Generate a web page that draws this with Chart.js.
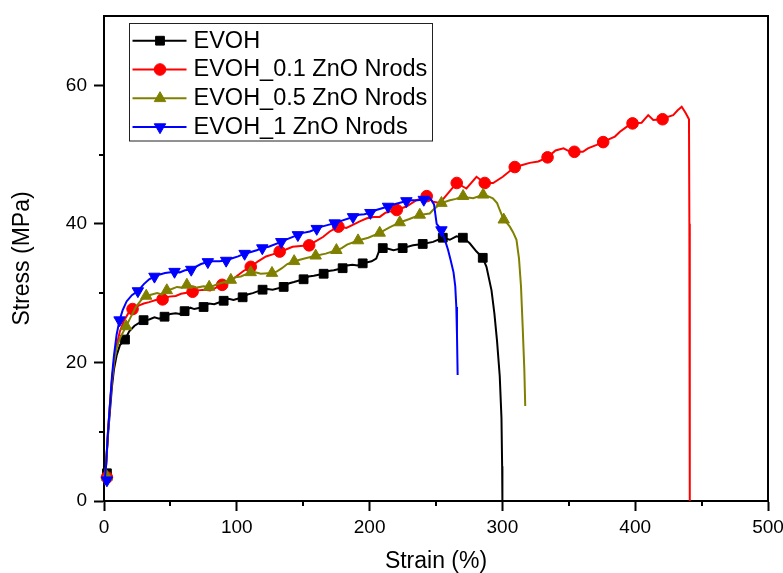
<!DOCTYPE html>
<html>
<head>
<meta charset="utf-8">
<script src="https://cdn.jsdelivr.net/npm/chart.js@4.4.1/dist/chart.umd.min.js"></script>
<style>
  html, body { margin: 0; padding: 0; background: #ffffff; }
  #wrap { width: 783px; height: 573px; }
</style>
</head>
<body>
<div id="wrap"><canvas id="c" width="783" height="573"></canvas></div>
<script>
// Tensile curves: strain (%) vs stress (MPa)
const seriesLabels = ['EVOH', 'EVOH_0.1 ZnO Nrods', 'EVOH_0.5 ZnO Nrods', 'EVOH_1 ZnO Nrods'];
const seriesColors = ['#000000', '#ff0000', '#808000', '#0000ff'];
const seriesShapes = ['rect', 'circle', 'triangle', 'triangleDown'];

const xTicks = [0, 100, 200, 300, 400, 500];
const xMinorTicks = [50, 150, 250, 350, 450];
const yTicks = [0, 20, 40, 60];
const yMinorTicks = [10, 30, 50];

const evohCurve = [
  [0.3,2.4],[1.5,5],[3,9.5],[4.5,13],[6,16.5],[7.5,19],[9.5,21],[12,22.5],[15.8,23.3],[19,24.5],[23,25.3],[26.5,25.7],
  [29.8,26.1],[34,26.2],[38,26.5],[41.5,26.3],[45.6,26.6],[50,27],[54,27.1],[57,27.0],[60.7,27.4],[65,27.9],[68,27.7],
  [75,28.0],[79,28.5],[83,28.4],[90.1,28.9],[94,29.2],[97.5,29.0],[104.4,29.4],[108,29.8],[112,30.0],[119.4,30.5],
  [123,30.6],[127,30.5],[135.3,30.9],[139,31.4],[143,31.6],[150.3,32.0],[154,32.4],[158,32.5],[165.4,32.8],[169,33.2],
  [173,33.3],[179.7,33.6],[183,34.0],[187,34.1],[191,34.0],[194.8,34.3],[201.5,34.6],[205,35.0],[207.6,36.3],
  [209.9,36.5],[214,36.4],[218,36.2],[224.9,36.5],[232.7,36.9],[240,37.1],[247.8,37.4],[255.1,38.0],[260.4,37.7],
  [265.4,38.2],[270.2,38.0],[275.4,37.2],[280.5,36.0],[285.2,35.1],[288,33.8],[291.8,30.4],[294,27],[296,23],
  [298,18],[299.3,12],[299.8,5],[300,0]
];
const evohMarks = [
  [2.2,4.0],[15.8,23.3],[29.8,26.1],[45.6,26.6],[60.7,27.4],[75,28.0],[90.1,28.9],[104.4,29.4],[119.4,30.5],
  [135.3,30.9],[150.3,32.0],[165.4,32.8],[179.7,33.6],[194.8,34.3],[209.9,36.5],[224.9,36.5],[240,37.1],
  [255.1,38.0],[270.2,38.0],[285.2,35.1]
];

const zno01Curve = [
  [0.3,2.4],[1.5,5],[3,10],[4.5,14],[6,17.5],[7.5,20],[9.5,22.5],[12,24.5],[15,26],[18,27],[21.5,27.7],[26,28.2],
  [30,28.5],[34,28.7],[39,29.0],[44.1,29.1],[49,29.5],[54,29.6],[58,29.9],[66.7,30.2],[71,30.4],[75.5,30.5],[80,30.4],
  [84.5,30.8],[89,31.2],[94,31.6],[99.6,32.4],[105,33.2],[110.5,33.8],[116,34.6],[122,35.3],[127,35.6],[132.3,36.0],
  [137,36.3],[142,36.7],[148,36.8],[154.5,36.9],[158.6,37.4],[164.9,38.1],[170,38.9],[176.5,39.6],[182.5,39.4],
  [187.7,39.9],[193,40.4],[198,40.8],[203,41.0],[207.6,41.0],[212,41.6],[216,41.8],[220.4,42.0],[227.7,42.5],
  [235,43.4],[243,44.0],[247.8,43.2],[252.8,43.0],[259,44.4],[265.6,45.9],[272.9,45.1],[280.5,46.8],[286.7,45.9],
  [293,45.9],[300.3,46.8],[309.3,48.2],[315,48.5],[320.6,48.8],[327,49.0],[334,49.6],[340,50.6],[346,50.9],
  [350,50.5],[354.2,50.4],[360.6,50.4],[364.4,50.9],[371,51.4],[375.9,51.8],[380,52.2],[384.7,52.6],[388.5,53.3],
  [393.5,54.0],[398,54.5],[404.8,54.6],[409.8,55.7],[413.6,55.0],[420.6,55.1],[424,55.4],[428.6,55.7],[432,56.4],
  [435,56.9],[438,56.0],[440.5,55.1],[440.8,40],[441,20],[441.2,0]
];
const zno01Marks = [
  [2.2,3.4],[21.5,27.7],[44.1,29.1],[66.7,30.2],[89,31.2],[110.5,33.8],[132.3,36.0],[154.5,36.9],[176.5,39.6],
  [220.4,42.0],[243,44.0],[265.6,45.9],[286.7,45.9],[309.3,48.2],[334,49.6],[354.2,50.4],[375.9,51.8],
  [398,54.5],[420.6,55.1]
];

const zno05Curve = [
  [0.3,2.4],[1.5,5],[3,10],[4.5,14],[6,17.5],[7.5,20],[9.5,22],[12,23.5],[16.7,25.2],[20,26.5],[24,28],[28,29],
  [31.8,29.6],[36,29.8],[40,30.0],[43.5,29.8],[47.3,30.4],[51,30.6],[55,30.9],[58.5,30.8],[62.4,31.2],[66,31.0],
  [70,30.8],[75,31.0],[79.2,30.9],[83,31.1],[87,31.4],[95.5,31.9],[99,32.3],[103,32.4],[110.5,33.0],[114,33.0],
  [118,32.8],[126.5,32.9],[130,33.1],[134,33.6],[138,34.2],[143.2,34.6],[151,35.0],[159.4,35.4],[167,35.7],
  [175,36.2],[179,36.5],[183,37.0],[191.3,37.6],[199,38.0],[207.6,38.7],[215,39.5],[222.7,40.2],[230,40.7],
  [237.8,41.3],[245.3,41.5],[247.7,42.0],[254.1,43.0],[260.4,43.4],[265,43.6],[270.4,44.0],[274,43.8],[278,43.7],
  [285.5,44.2],[289,44.0],[292.8,43.7],[296,43.0],[298,42.0],[301,40.6],[303,40.2],[305.6,39.6],[308,38.8],
  [310.6,37.7],[312.5,35],[314,31],[315.3,25],[316.5,19],[317.2,13.7]
];
const zno05Marks = [
  [2.2,3.5],[16.7,25.2],[31.8,29.6],[47.3,30.4],[62.4,31.2],[79.2,30.9],[95.5,31.9],[110.5,33.0],[126.5,32.9],
  [143.2,34.6],[159.4,35.4],[175,36.2],[191.3,37.6],[207.6,38.7],[222.7,40.2],[237.8,41.3],[254.1,43.0],
  [270.4,44.0],[285.5,44.2],[301,40.6]
];

const zno1Curve = [
  [0.3,2.4],[1.5,5],[3,10],[4.5,14],[6,18],[7.5,21],[9.5,24],[11.7,26.1],[14,27.5],[17,28.8],[21,29.7],[25.5,30.3],
  [30,31.3],[34,32.0],[38,32.4],[42,32.7],[46,32.9],[53.1,33.1],[57,33.0],[61,33.3],[65.7,33.4],[69,33.8],[73,34.2],
  [78.2,34.5],[82,34.6],[87,34.6],[92,34.7],[96,35.0],[101,35.3],[105.9,35.7],[110,35.9],[115,36.2],[119.2,36.5],
  [124,36.7],[133.5,37.4],[138,37.8],[146,38.4],[150,38.7],[155,38.9],[160.2,39.3],[164,39.6],[173.7,40.1],
  [178,40.4],[187.5,41.0],[192,41.3],[196,41.4],[200.6,41.6],[205,42.0],[213.9,42.5],[218,42.8],[227.7,43.3],
  [232,43.4],[236,43.4],[240.8,43.5],[245.5,43.7],[248.5,42.8],[250.5,40.0],[254.1,39.1],[256.5,37.8],[259,36.3],
  [261,34.8],[263.2,33],[264.5,31],[265.3,28],[265.8,24],[266.3,18.2]
];
const zno1Marks = [
  [2.2,3.0],[11.7,26.1],[25.5,30.3],[38,32.4],[53.1,33.1],[65.7,33.4],[78.2,34.5],[92,34.7],[105.9,35.7],
  [119.2,36.5],[133.5,37.4],[146,38.4],[160.2,39.3],[173.7,40.1],[187.5,41.0],[200.6,41.6],[213.9,42.5],
  [227.7,43.3],[240.8,43.5],[254.1,39.1]
];

const curves = [evohCurve, zno01Curve, zno05Curve, zno1Curve];
const marks = [evohMarks, zno01Marks, zno05Marks, zno1Marks];

const FONT = '"Liberation Sans", Arial, Helvetica, sans-serif';
const markRadius = { rect: 6.2, circle: 5.8, triangle: 6.6, triangleDown: 6.6 };

const toXY = pts => pts.map(p => ({ x: p[0], y: p[1] }));

// Chart.js draws lower "order" on top, so the last series gets the lowest order
const datasets = [];
seriesLabels.forEach((label, i) => {
  const shape = seriesShapes[i];
  const base = (seriesLabels.length - i) * 2;
  datasets.push({
    label: label,
    data: toXY(curves[i]),
    showLine: true,
    borderColor: seriesColors[i],
    borderWidth: 2,
    pointRadius: 0,
    pointHoverRadius: 0,
    tension: 0,
    order: base
  });
  datasets.push({
    label: label + ' marks',
    data: toXY(marks[i]),
    showLine: false,
    pointStyle: shape === 'triangleDown' ? 'triangle' : shape,
    rotation: shape === 'triangleDown' ? 180 : 0,
    pointRadius: markRadius[shape],
    pointHoverRadius: markRadius[shape],
    backgroundColor: seriesColors[i],
    borderColor: seriesColors[i],
    borderWidth: 1,
    clip: false,
    order: base - 1
  });
});

function drawShape(ctx, shape, x, y, r, color) {
  ctx.save();
  ctx.fillStyle = color;
  ctx.strokeStyle = color;
  ctx.lineWidth = 1;
  ctx.beginPath();
  if (shape === 'rect') {
    const s = Math.SQRT1_2 * r;
    ctx.rect(x - s, y - s, 2 * s, 2 * s);
  } else if (shape === 'circle') {
    ctx.arc(x, y, r, 0, Math.PI * 2);
  } else {
    let a = shape === 'triangleDown' ? Math.PI : 0;
    for (let k = 0; k < 3; k++) {
      const px = x + Math.sin(a) * r, py = y - Math.cos(a) * r;
      if (k === 0) ctx.moveTo(px, py); else ctx.lineTo(px, py);
      a += Math.PI * 2 / 3;
    }
    ctx.closePath();
  }
  ctx.fill();
  ctx.stroke();
  ctx.restore();
}

const framePlugin = {
  id: 'frameAndLegend',
  afterDraw(chart) {
    const ctx = chart.ctx;
    const a = chart.chartArea;
    const xs = chart.scales.x, ys = chart.scales.y;
    ctx.save();
    ctx.strokeStyle = '#000';
    ctx.lineWidth = 2;
    // top and right frame edges
    ctx.beginPath();
    ctx.moveTo(a.left - 1, a.top);
    ctx.lineTo(a.right, a.top);
    ctx.lineTo(a.right, a.bottom + 1);
    ctx.stroke();
    // minor ticks
    ctx.beginPath();
    xMinorTicks.forEach(v => {
      const px = Math.round(xs.getPixelForValue(v));
      ctx.moveTo(px, a.bottom);
      ctx.lineTo(px, a.bottom + 5);
    });
    yMinorTicks.forEach(v => {
      const py = Math.round(ys.getPixelForValue(v));
      ctx.moveTo(a.left, py);
      ctx.lineTo(a.left - 5, py);
    });
    ctx.stroke();

    // legend box
    const bx = a.left + 25.5, by = a.top + 7.5, bw = 303, bh = 117.5;
    ctx.fillStyle = '#fff';
    ctx.fillRect(bx, by, bw, bh);
    ctx.lineWidth = 1;
    ctx.strokeStyle = '#222';
    ctx.strokeRect(bx, by, bw, bh);
    ctx.font = '23.5px ' + FONT;
    ctx.textBaseline = 'middle';
    ctx.textAlign = 'left';
    seriesLabels.forEach((label, i) => {
      const ry = by + 17.2 + i * 28.8;
      ctx.strokeStyle = seriesColors[i];
      ctx.lineWidth = 2;
      ctx.beginPath();
      ctx.moveTo(bx + 3, ry);
      ctx.lineTo(bx + 57, ry);
      ctx.stroke();
      drawShape(ctx, seriesShapes[i], bx + 30.5, ry, markRadius[seriesShapes[i]], seriesColors[i]);
      ctx.fillStyle = '#000';
      ctx.fillText(label, bx + 64, ry + 0.5);
    });
    ctx.restore();
  }
};

new Chart(document.getElementById('c'), {
  type: 'scatter',
  data: { datasets: datasets },
  options: {
    responsive: false,
    animation: false,
    events: [],
    layout: { padding: { top: 16, right: 15, left: 0, bottom: 0 } },
    plugins: { legend: { display: false }, tooltip: { enabled: false } },
    scales: {
      x: {
        type: 'linear',
        min: 0,
        max: 500,
        afterBuildTicks: s => { s.ticks = xTicks.map(v => ({ value: v })); },
        afterFit: s => { s.height = 72; s.paddingLeft = 0; s.paddingRight = 0; },
        ticks: { color: '#000', font: { family: FONT, size: 19 }, padding: 5, maxRotation: 0, autoSkip: false },
        grid: { display: true, drawOnChartArea: false, drawTicks: true, tickLength: 10, tickWidth: 2, color: '#000' },
        border: { display: true, color: '#000', width: 2 },
        title: { display: true, text: 'Strain (%)', color: '#000', font: { family: FONT, size: 23 }, padding: { top: 0, bottom: -2 } }
      },
      y: {
        type: 'linear',
        min: 0,
        max: 70,
        afterBuildTicks: s => { s.ticks = yTicks.map(v => ({ value: v })); },
        afterFit: s => { s.width = 104; s.paddingTop = 0; s.paddingBottom = 0; },
        ticks: { color: '#000', font: { family: FONT, size: 19 }, padding: 7, autoSkip: false },
        grid: { display: true, drawOnChartArea: false, drawTicks: true, tickLength: 10, tickWidth: 2, color: '#000' },
        border: { display: true, color: '#000', width: 2 },
        title: { display: true, text: 'Stress (MPa)', color: '#000', font: { family: FONT, size: 23 }, padding: { top: 9, bottom: 0 } }
      }
    }
  },
  plugins: [framePlugin]
});
</script>
</body>
</html>
